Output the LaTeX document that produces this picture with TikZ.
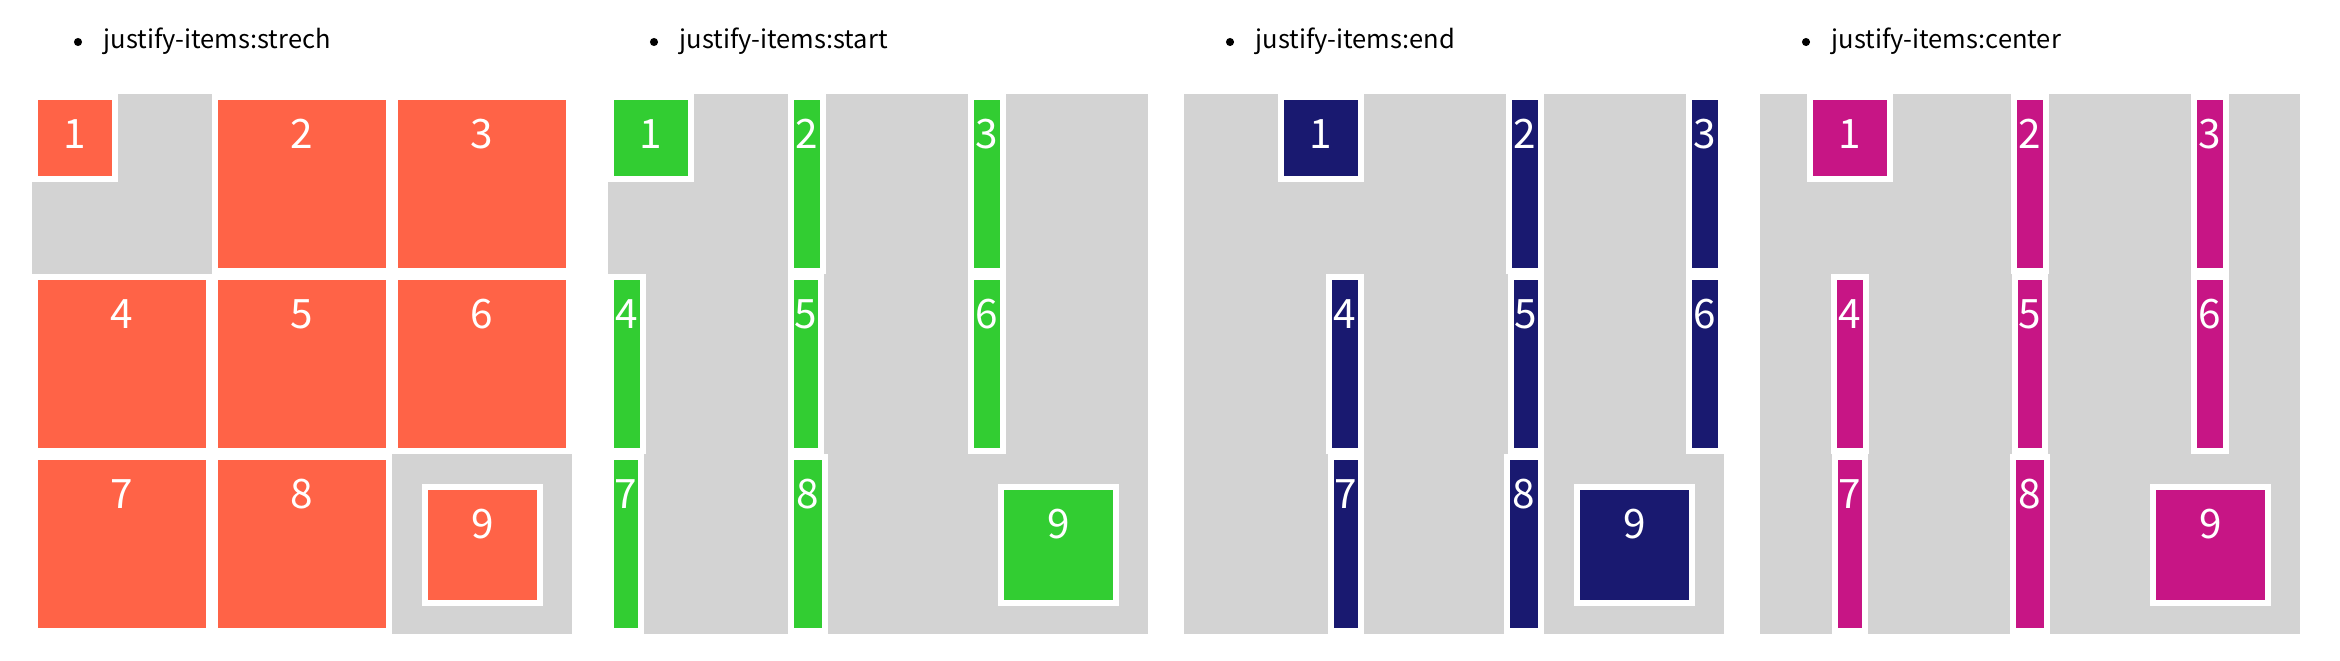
\documentclass[tikz,border=0pt]{standalone}
\usepackage{fontspec}
\setmainfont{Noto Sans CJK KR}
\definecolor{tomatoc}{HTML}{FF6347}
\definecolor{limec}{HTML}{32CD32}
\definecolor{navyc}{HTML}{191970}
\definecolor{violetc}{HTML}{C71585}
\definecolor{greyc}{HTML}{D3D3D3}
\tikzset{
  gridbg/.style={fill=greyc, draw=none, inner sep=0pt, outer sep=0pt,
    minimum width=360pt, minimum height=360pt, anchor=north west},
  cellbox/.style={draw=white, line width=4pt, inner sep=0pt, outer sep=0pt},
  digit/.style={text=white, font=\fontsize{27}{30}\selectfont, anchor=base,
    inner sep=0pt, yshift=-34.2pt},
  caption/.style={font=\fontsize{17}{20}\selectfont, anchor=base west, inner sep=0pt},
  bulletdot/.style={circle, fill=black, inner sep=0pt, minimum size=5.4pt},
}
\newcommand\jgrid[6]{%
  \node[gridbg] (#1bg) at (#2,62.7) {};
  \node[bulletdot] (#1dot) at (#2+30.7,28) {};
  \node[caption] (#1cap) at (#2+47.6,32.2) {#5};
  \foreach \d/\w in {#6} {
    \pgfmathsetmacro\cc{int(mod(\d-1,3))}
    \pgfmathsetmacro\rr{int((\d-1)/3)}
    \pgfmathsetmacro\hh{\d==1 ? 58.5 : 120}
    \pgfmathsetmacro\xa{#2+120*\cc+#3*(120-\w)}
    \pgfmathsetmacro\ya{62.7+120*\rr}
    \pgfmathsetmacro\mw{\w-4}
    \pgfmathsetmacro\mh{\hh-4}
    \node[cellbox, fill=#4, minimum width=\mw pt, minimum height=\mh pt,
      label={[digit]north:\d}] (#1i\d) at (\xa+\w/2, \ya+\hh/2) {};
  }
  \node[cellbox, fill=#4, minimum width=77pt, minimum height=77pt,
    label={[digit]north:9}] (#1i9) at (#2+300.5, 363.2) {};
}
\begin{document}
\begin{tikzpicture}[x=1pt, y=-1pt]
\useasboundingbox (0,0) rectangle (1560,440);
\fill[white] (0,0) rectangle (1560,440);
\jgrid{a}{21.3}{0}{tomatoc}{justify-items:strech}{1/57.5,2/120,3/120,4/120,5/120,6/120,7/120,8/120}
\jgrid{b}{405.3}{0}{limec}{justify-items:start}{1/57.5,2/25.3,3/25.3,4/25.2,5/24,6/25.3,7/24,8/26.4}
\jgrid{c}{789.3}{1}{navyc}{justify-items:end}{1/57.5,2/25.3,3/25.3,4/25.2,5/24,6/25.3,7/24,8/26.4}
\jgrid{d}{1173.3}{0.5}{violetc}{justify-items:center}{1/57.5,2/25.3,3/25.3,4/25.2,5/24,6/25.3,7/24,8/26.4}
\end{tikzpicture}
\end{document}
